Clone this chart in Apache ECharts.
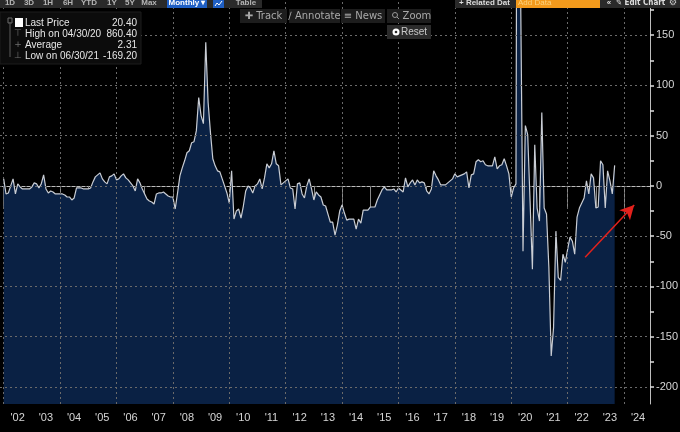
<!DOCTYPE html>
<html>
<head>
<meta charset="utf-8">
<script src="https://cdn.jsdelivr.net/npm/echarts@6/dist/echarts.min.js"></script>
<style>
  html, body { margin: 0; padding: 0; background: #000; }
  #chart { width: 680px; height: 432px; }
</style>
</head>
<body>
<div id="chart"></div>
<script>
// monthly readings, first value = Jan 2002
const startYear = 2002;
const monthlyValues = [
    7, -8, -7, 0, 7, -8, 2, -1, -3, -3, -3, -3,            // 2002
    -1, 3, 2, -2, 2, 11, -3, -7, -5, -6, -8, -8,           // 2003
    -8, -8, -9, -11, -11, -14, -12, -2, -2, -2, -3, -3,    // 2004
    -3, -2, 4, 9, 11, 13, 7, 4, 2, 9, 10, 12,              // 2005
    6, 7, 10, 12, 8, 6, 3, 0, -5, 7, 3, -3,                // 2006
    -8, -13, -15, -16, -18, -8, -7, -7, -6, -8, -10, -11,  // 2007
    -11, -23, -7, 10, 18, 25, 33, 35, 43, 44, 55, 88,      // 2008
    70, 62, 143, 83, 53, 27, 20, 15, 14, 7, 0, -7,         // 2009
    -17, 15, -33, -25, -23, -32, -20, -5, 0, -2, -7, 0,    // 2010
    2, 7, -3, 8, 22, 18, 22, 35, 22, 20, 1, 3,             // 2011
    5, 7, -2, -3, -23, 2, 3, -8, -12, 0, 7, -3,            // 2012
    -14, -6, -9, -11, -19, -20, -28, -36, -36, -49, -39, -25, // 2013
    -19, -27, -34, -33, -33, -33, -43, -33, -37, -24, -24, -24, // 2014
    -21, -21, -21, -14, -9, -4, -1, -4, -4, -4, -3, -6,    // 2015
    -2, -4, -6, 8, -1, 3, 6, 1, 6, 3, 4, 3,                // 2016
    -5, -8, -3, 15, 10, 6, 1, 1, 1, 3, 5, 7,               // 2017
    12, 9, 10, 11, 12, 14, -2, 11, 12, 24, 26, 24,         // 2018
    25, 21, 20, 20, 20, 29, 17, 20, 21, 27, 20, 12,        // 2019
    -11, -2, 2, 860.4, 190, -65, 60, 51, -15, -83, 41, -22, // 2020
    -35, 73, -22, -28, -81, -169.2, -141, -45, -91, -94, -68, -76, // 2021
    -63, -51, -55, -68, -31, -22, -17, -12, 5, -8, 12, 8,  // 2022
    -22, -21, 25, 21, -22, 15, 5, -8, 20.4                 // 2023
];

const yearTicks = [2002, 2003, 2004, 2005, 2006, 2007, 2008, 2009, 2010, 2011, 2012, 2013,
    2014, 2015, 2016, 2017, 2018, 2019, 2020, 2021, 2022, 2023, 2024];
const gridYears = [2002, 2004, 2006, 2008, 2010, 2012, 2014, 2016, 2018, 2020, 2022, 2024];
const yLabelValues = [-200, -150, -100, -50, 0, 50, 100, 150];
const yTickValues = [-200, -175, -150, -125, -100, -75, -50, -25, 0, 25, 50, 75, 100, 125, 150, 175];

// hand drawn red arrow (data coords)
const arrowFrom = [2022.62, -71];
const arrowTo = [2024.36, -19];

const legendRows = [
    ['Last Price', '20.40'],
    ['High on 04/30/20', '860.40'],
    ['Average', '2.31'],
    ['Low on 06/30/21', '-169.20']
];
const rangeButtons = ['1D', '3D', '1H', '6H', 'YTD', '1Y', '5Y', 'Max'];

const FONT = 'Liberation Sans, Arial, sans-serif';
const colors = {
    line: '#c9cdd4',
    area: '#0a2144',
    grid: '#6a6a6a',
    axis: '#bdbdbd',
    text: '#d6d6d6',
    arrow: '#e3211c',
    bar: '#2a2a2a',
    button: '#1d1d1d',
    blue: '#1f5fc4'
};

const seriesData = monthlyValues.map((v, i) => [startYear + i / 12, v]);
const lastValue = monthlyValues[monthlyValues.length - 1];

// grid lines go on top of the filled area, like the terminal does
const gridLineStyle = { color: colors.grid, type: [2, 3], width: 1 };
const markLines = [];
yLabelValues.forEach(v => markLines.push({ yAxis: v, lineStyle: gridLineStyle, label: { show: false } }));
gridYears.forEach(y => markLines.push({ xAxis: y, lineStyle: gridLineStyle, label: { show: false } }));
markLines.push({
    yAxis: lastValue,
    lineStyle: { opacity: 0 },
    label: {
        show: true,
        position: 'end',
        distance: 4,
        formatter: lastValue.toFixed(2),
        color: '#111',
        backgroundColor: '#eeeeee',
        padding: [2, 2, 1, 2],
        fontFamily: FONT,
        fontSize: 11
    }
});
markLines.push([
    { coord: arrowFrom, symbol: 'none', lineStyle: { color: colors.arrow, width: 1.5, type: 'solid' }, label: { show: false } },
    { coord: arrowTo, symbol: 'arrow', symbolSize: [11, 14] }
]);

// overlay: toolbar, buttons and the legend box
function txt(x, y, text, opts) {
    opts = opts || {};
    return {
        type: 'text', x: x, y: y, z: 100, silent: true,
        style: {
            text: text,
            fill: opts.fill || '#b5b5b5',
            font: opts.font || ('bold 8px ' + FONT),
            align: opts.align || 'center',
            verticalAlign: 'middle'
        }
    };
}
function box(x, y, w, h, fill, stroke) {
    return {
        type: 'rect', z: 99, silent: true,
        shape: { x: x, y: y, width: w, height: h },
        style: { fill: fill, stroke: stroke || null }
    };
}

const graphics = [];
graphics.push(box(0, 0, 262, 8, colors.bar));
graphics.push(box(455, 0, 225, 8, colors.bar));
const rangeX = [10, 29, 48, 68, 89, 112, 130, 149];
rangeButtons.forEach((t, i) => graphics.push(txt(rangeX[i], 3, t)));
graphics.push(box(167, 0, 40, 8, colors.blue));
graphics.push(txt(187, 3, 'Monthly \u25BE', { fill: '#ffffff' }));
graphics.push(box(213, 0, 11, 8, colors.blue));
graphics.push({
    type: 'polyline', z: 100, silent: true,
    shape: { points: [[215, 6], [217, 3], [219, 5], [222, 1]] },
    style: { stroke: '#fff', lineWidth: 1, fill: null }
});
graphics.push(txt(246, 3, 'Table'));
graphics.push(txt(459, 3, '+ Related Dat', { align: 'left', fill: '#dddddd' }));
graphics.push(box(516, 0, 84, 8, '#f39a1c'));
graphics.push(txt(518, 3, 'Add Data', { align: 'left', fill: '#fcd27e', font: '8px ' + FONT }));
graphics.push(txt(609, 3, '\u00AB', { fill: '#dddddd' }));
graphics.push(txt(616, 3, '\u270E Edit Chart', { align: 'left', fill: '#dddddd', font: 'bold 8px DejaVu Sans Condensed, DejaVu Sans, ' + FONT }));
graphics.push(txt(673, 3, '\u2699', { fill: '#cccccc', font: '9px DejaVu Sans' }));

// second row of buttons
const rowBtns = [
    { x: 240, w: 47, label: '\u271A Track' },
    { x: 289, w: 51, label: '\u2215 Annotate' },
    { x: 341, w: 44, label: '\u2261 News' },
    { x: 387, w: 44, label: '     Zoom' }
];
rowBtns.forEach(b => {
    graphics.push(box(b.x, 9, b.w, 14, colors.button));
    graphics.push(txt(b.x + b.w / 2, 16, b.label, { fill: '#a9a9a9', font: '10px DejaVu Sans, ' + FONT }));
});
graphics.push({ type: 'circle', z: 101, silent: true, shape: { cx: 395, cy: 15, r: 2.5 }, style: { stroke: '#999', fill: null, lineWidth: 1 } });
graphics.push({ type: 'line', z: 101, silent: true, shape: { x1: 397, y1: 17, x2: 399, y2: 19 }, style: { stroke: '#999', lineWidth: 1 } });
graphics.push(box(387, 25, 44, 14, '#2b2b2b'));
graphics.push({ type: 'circle', z: 101, silent: true, shape: { cx: 396, cy: 32, r: 3.5 }, style: { fill: '#ffffff' } });
graphics.push({ type: 'circle', z: 102, silent: true, shape: { cx: 396, cy: 32, r: 1.3 }, style: { fill: '#2b2b2b' } });
graphics.push(txt(414, 32, 'Reset', { fill: '#c8c8c8', font: '10px ' + FONT }));

// legend box
graphics.push(box(0, 12, 141, 52, '#0c0c0c', '#1c1c1c'));
graphics.push({ type: 'line', z: 100, silent: true, shape: { x1: 10, y1: 22, x2: 10, y2: 57 }, style: { stroke: '#5a5a5a', lineWidth: 1 } });
graphics.push(box(8, 18, 4, 5, null, '#6a6a6a'));
graphics.push(box(15, 18, 8, 9, '#ffffff'));
const rowY = [23, 34, 45, 56];
const rowGlyph = [null, '\u22A4', '+', '\u22A5'];
legendRows.forEach((r, i) => {
    if (rowGlyph[i]) graphics.push(txt(18, rowY[i], rowGlyph[i], { fill: '#6f6f6f', font: '9px DejaVu Sans' }));
    graphics.push(txt(25, rowY[i], r[0], { align: 'left', fill: '#e6e6e6', font: '10px ' + FONT }));
    graphics.push(txt(137, rowY[i], r[1], { align: 'right', fill: '#e6e6e6', font: '10px ' + FONT }));
});

const chart = echarts.init(document.getElementById('chart'), null, { renderer: 'canvas' });
chart.setOption({
    backgroundColor: '#000000',
    animation: false,
    textStyle: { fontFamily: FONT },
    grid: { left: 0, right: 30, top: 0, bottom: 28, containLabel: false, outerBoundsMode: 'none' },
    xAxis: {
        type: 'value',
        min: 2001.87,
        max: 2024.92,
        axisLine: { show: true, lineStyle: { color: colors.axis, width: 1 } },
        axisTick: { show: true, customValues: yearTicks, length: 21, lineStyle: { color: '#8a8a8a' } },
        axisLabel: {
            customValues: yearTicks,
            formatter: v => "'" + String(Math.round(v)).slice(2),
            color: colors.text,
            fontSize: 11,
            margin: 8,
            padding: [0, 0, 0, 28]
        },
        splitLine: { show: false }
    },
    yAxis: {
        type: 'value',
        position: 'right',
        min: -217,
        max: 185,
        axisLine: { show: true, lineStyle: { color: colors.axis, width: 1 } },
        axisTick: { show: true, customValues: yTickValues, length: 4, lineStyle: { color: '#dddddd', width: 1.5 } },
        axisLabel: {
            customValues: yLabelValues,
            color: colors.text,
            fontSize: 11,
            margin: 6
        },
        splitLine: { show: false }
    },
    series: [
        {
            type: 'line',
            data: seriesData,
            symbol: 'none',
            clip: true,
            lineStyle: { color: colors.line, width: 1.2 },
            areaStyle: { color: colors.area, opacity: 1, origin: 'start' },
            markLine: {
                silent: true,
                symbol: 'none',
                animation: false,
                data: markLines
            }
        }
    ],
    graphic: graphics
});
</script>
</body>
</html>
